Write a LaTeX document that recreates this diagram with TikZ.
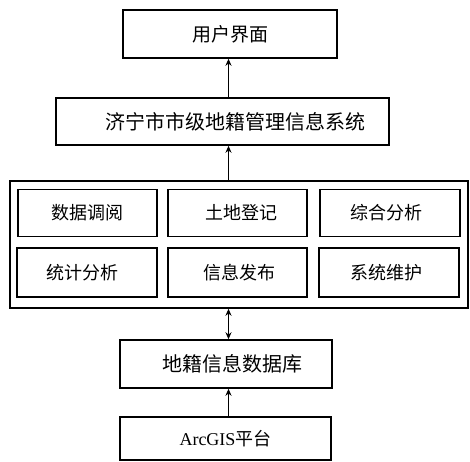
\documentclass[tikz,border=0pt]{standalone}
\usepackage{fontspec}
\setmainfont{Liberation Serif}
\newfontfamily\cjk{Noto Sans CJK SC}
\usetikzlibrary{arrows.meta}
\begin{document}
\begin{tikzpicture}[x=1pt,y=-1pt,
  box/.style={draw,line width=1.5pt,inner sep=0pt,font=\cjk\fontsize{18}{20}\selectfont},
  bigbox/.style={box,font=\cjk\fontsize{20}{22}\selectfont},
  arr/.style={line width=1.5pt,-{Stealth[length=7pt,width=6pt]}},
  darr/.style={line width=1.5pt,{Stealth[length=7pt,width=6pt]}-{Stealth[length=7pt,width=6pt]}}]
\useasboundingbox (0,0) rectangle (470,461);
\coordinate (ax) at (228.5,0);
\node[box,minimum width=214,minimum height=48,font=\cjk\fontsize{19}{21}\selectfont] (ui) at (230,34) {用户界面};
\node[bigbox,minimum width=333,minimum height=47] (sys) at (222.5,121.5) {\hspace*{26pt}济宁市市级地籍管理信息系统};
\node[draw,line width=1.5pt,minimum width=458,minimum height=127,inner sep=0pt] (outer) at (239,244.5) {};
\node[box,minimum width=139,minimum height=47] (a1) at (87.5,213) {数据调阅};
\node[box,minimum width=139,minimum height=47] (a2) at (237.5,213) {\hspace*{7pt}土地登记};
\node[box,minimum width=140,minimum height=47] (a3) at (390,213) {\hspace*{-8pt}综合分析};
\node[box,minimum width=140,minimum height=49] (b1) at (87,272.5) {\hspace*{-9pt}统计分析};
\node[box,minimum width=139,minimum height=49] (b2) at (237.5,272.5) {\hspace*{3pt}信息发布};
\node[box,minimum width=140,minimum height=49] (b3) at (389,272.5) {\hspace*{-6pt}系统维护};
\node[bigbox,minimum width=212,minimum height=48] (db) at (226,364) {\hspace*{12pt}地籍信息数据库};
\node[box,minimum width=211,minimum height=43,font=\fontsize{18}{20}\selectfont] (gis) at (225.5,438.5) {ArcGIS{\cjk 平台}};
\draw[arr] (sys.north -| ax) -- (ui.south -| ax);
\draw[arr] (outer.north -| ax) -- (sys.south -| ax);
\draw[darr] (outer.south -| ax) -- (db.north -| ax);
\draw[arr] (gis.north -| ax) -- (db.south -| ax);
\end{tikzpicture}
\end{document}
